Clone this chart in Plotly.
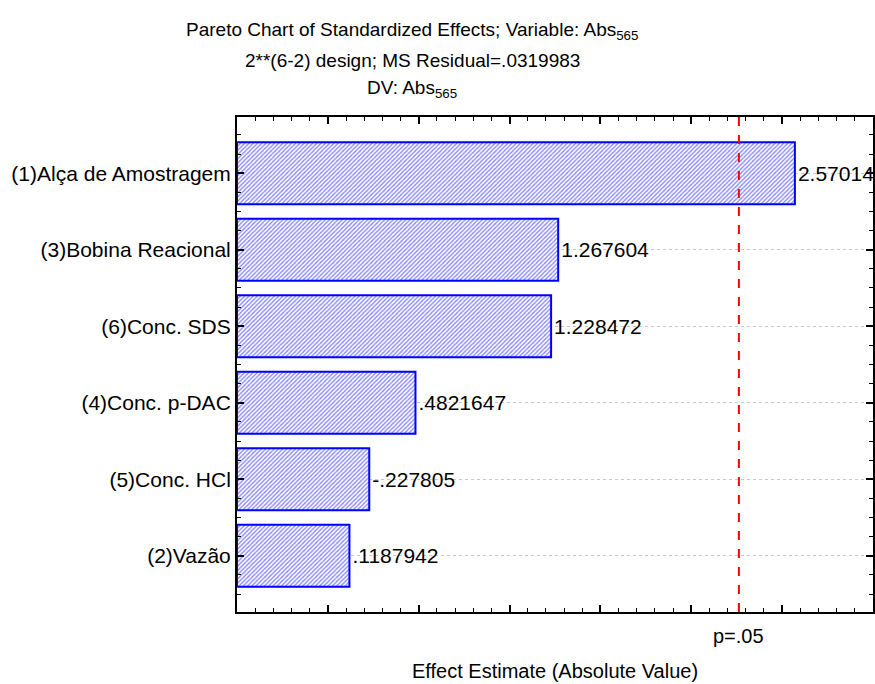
import plotly.graph_objects as go

# Standardized effects (t-values) for the 2**(6-2) design, sorted by magnitude
factors = [
    "(1)Alça de Amostragem",
    "(3)Bobina Reacional",
    "(6)Conc. SDS",
    "(4)Conc. p-DAC",
    "(5)Conc. HCl",
    "(2)Vazão",
]
effects = [2.57014, 1.267604, 1.228472, 0.4821647, -0.227805, 0.1187942]
effect_labels = ["2.57014", "1.267604", "1.228472", ".4821647", "-.227805", ".1187942"]
t_critical = 2.262  # p = .05, 9 df

x_min, x_max = -0.5, 3.0
FONT = "Liberation Sans, Arial, sans-serif"

# plot-area geometry in pixels
W, H = 875, 684
L, R, T, B = 237, 2, 117, 72
plot_w, plot_h = W - L - R, H - T - B


def px_x(x):
    return (x - L) / plot_w


def px_y(y):
    return (H - B - y) / plot_h


positions = list(range(len(factors)))
lengths = [abs(e) - x_min for e in effects]

fig = go.Figure()
fig.add_bar(
    y=positions,
    x=lengths,
    base=x_min,
    orientation="h",
    width=0.81,
    marker=dict(
        color="white",
        line=dict(color="#0000ff", width=2),
        pattern=dict(shape="/", fgcolor="#1010ff", bgcolor="white", size=3, solidity=0.45),
    ),
    text=effect_labels,
    textposition="outside",
    textfont=dict(family=FONT, size=21, color="black"),
    cliponaxis=False,
    hoverinfo="skip",
)

# Critical t value (p=.05)
fig.add_shape(
    type="line", xref="x", yref="paper",
    x0=t_critical, x1=t_critical, y0=0, y1=1,
    line=dict(color="#ff0000", width=2, dash="dash"),
)
fig.add_annotation(
    x=t_critical, xref="x", y=px_y(636), yref="paper",
    xanchor="center", yanchor="middle",
    text="p=.05", showarrow=False, font=dict(family=FONT, size=20, color="black"),
)
fig.add_annotation(
    x=0.5, xref="paper", y=px_y(671), yref="paper",
    xanchor="center", yanchor="middle",
    text="Effect Estimate (Absolute Value)", showarrow=False,
    font=dict(family=FONT, size=20, color="black"),
)

# Title block
title_lines = [
    ("Pareto Chart of Standardized Effects; Variable: Abs<sub>565</sub>", 31),
    ("2**(6-2) design; MS Residual=.0319983", 61),
    ("DV: Abs<sub>565</sub>", 89),
]
for text, ypix in title_lines:
    fig.add_annotation(
        x=px_x(412), xref="paper", y=px_y(ypix), yref="paper",
        text=text, showarrow=False, xanchor="center", yanchor="middle",
        font=dict(family=FONT, size=19, color="black"),
    )

fig.update_layout(
    width=W, height=H,
    margin=dict(l=L, r=R, t=T, b=B, autoexpand=False),
    paper_bgcolor="white", plot_bgcolor="white",
    showlegend=False,
    font=dict(family=FONT, size=21, color="black"),
)
fig.update_xaxes(
    range=[x_min, x_max],
    showticklabels=False,
    showgrid=False, zeroline=False,
    showline=True, linecolor="black", linewidth=2, mirror="allticks",
    ticks="inside", ticklen=7, tickwidth=1.5, tickcolor="black",
    tick0=0, dtick=0.5,
    minor=dict(ticks="inside", ticklen=4, tickwidth=1, tickcolor="black", dtick=0.1, showgrid=False),
)
fig.update_yaxes(
    range=[len(factors) - 1 + 0.735, -0.735],
    tickmode="array", tickvals=positions, ticktext=factors,
    tickfont=dict(family=FONT, size=21, color="black"),
    showgrid=True, gridcolor="#c8c8c8", gridwidth=1, griddash="dot",
    zeroline=False,
    showline=True, linecolor="black", linewidth=2, mirror="allticks",
    ticks="inside", ticklen=7, tickwidth=1.5, tickcolor="black",
    minor=dict(ticks="inside", ticklen=4, tickwidth=1, tickcolor="black",
               tick0=0, dtick=0.25, showgrid=False),
)

fig.write_html("out.html")
